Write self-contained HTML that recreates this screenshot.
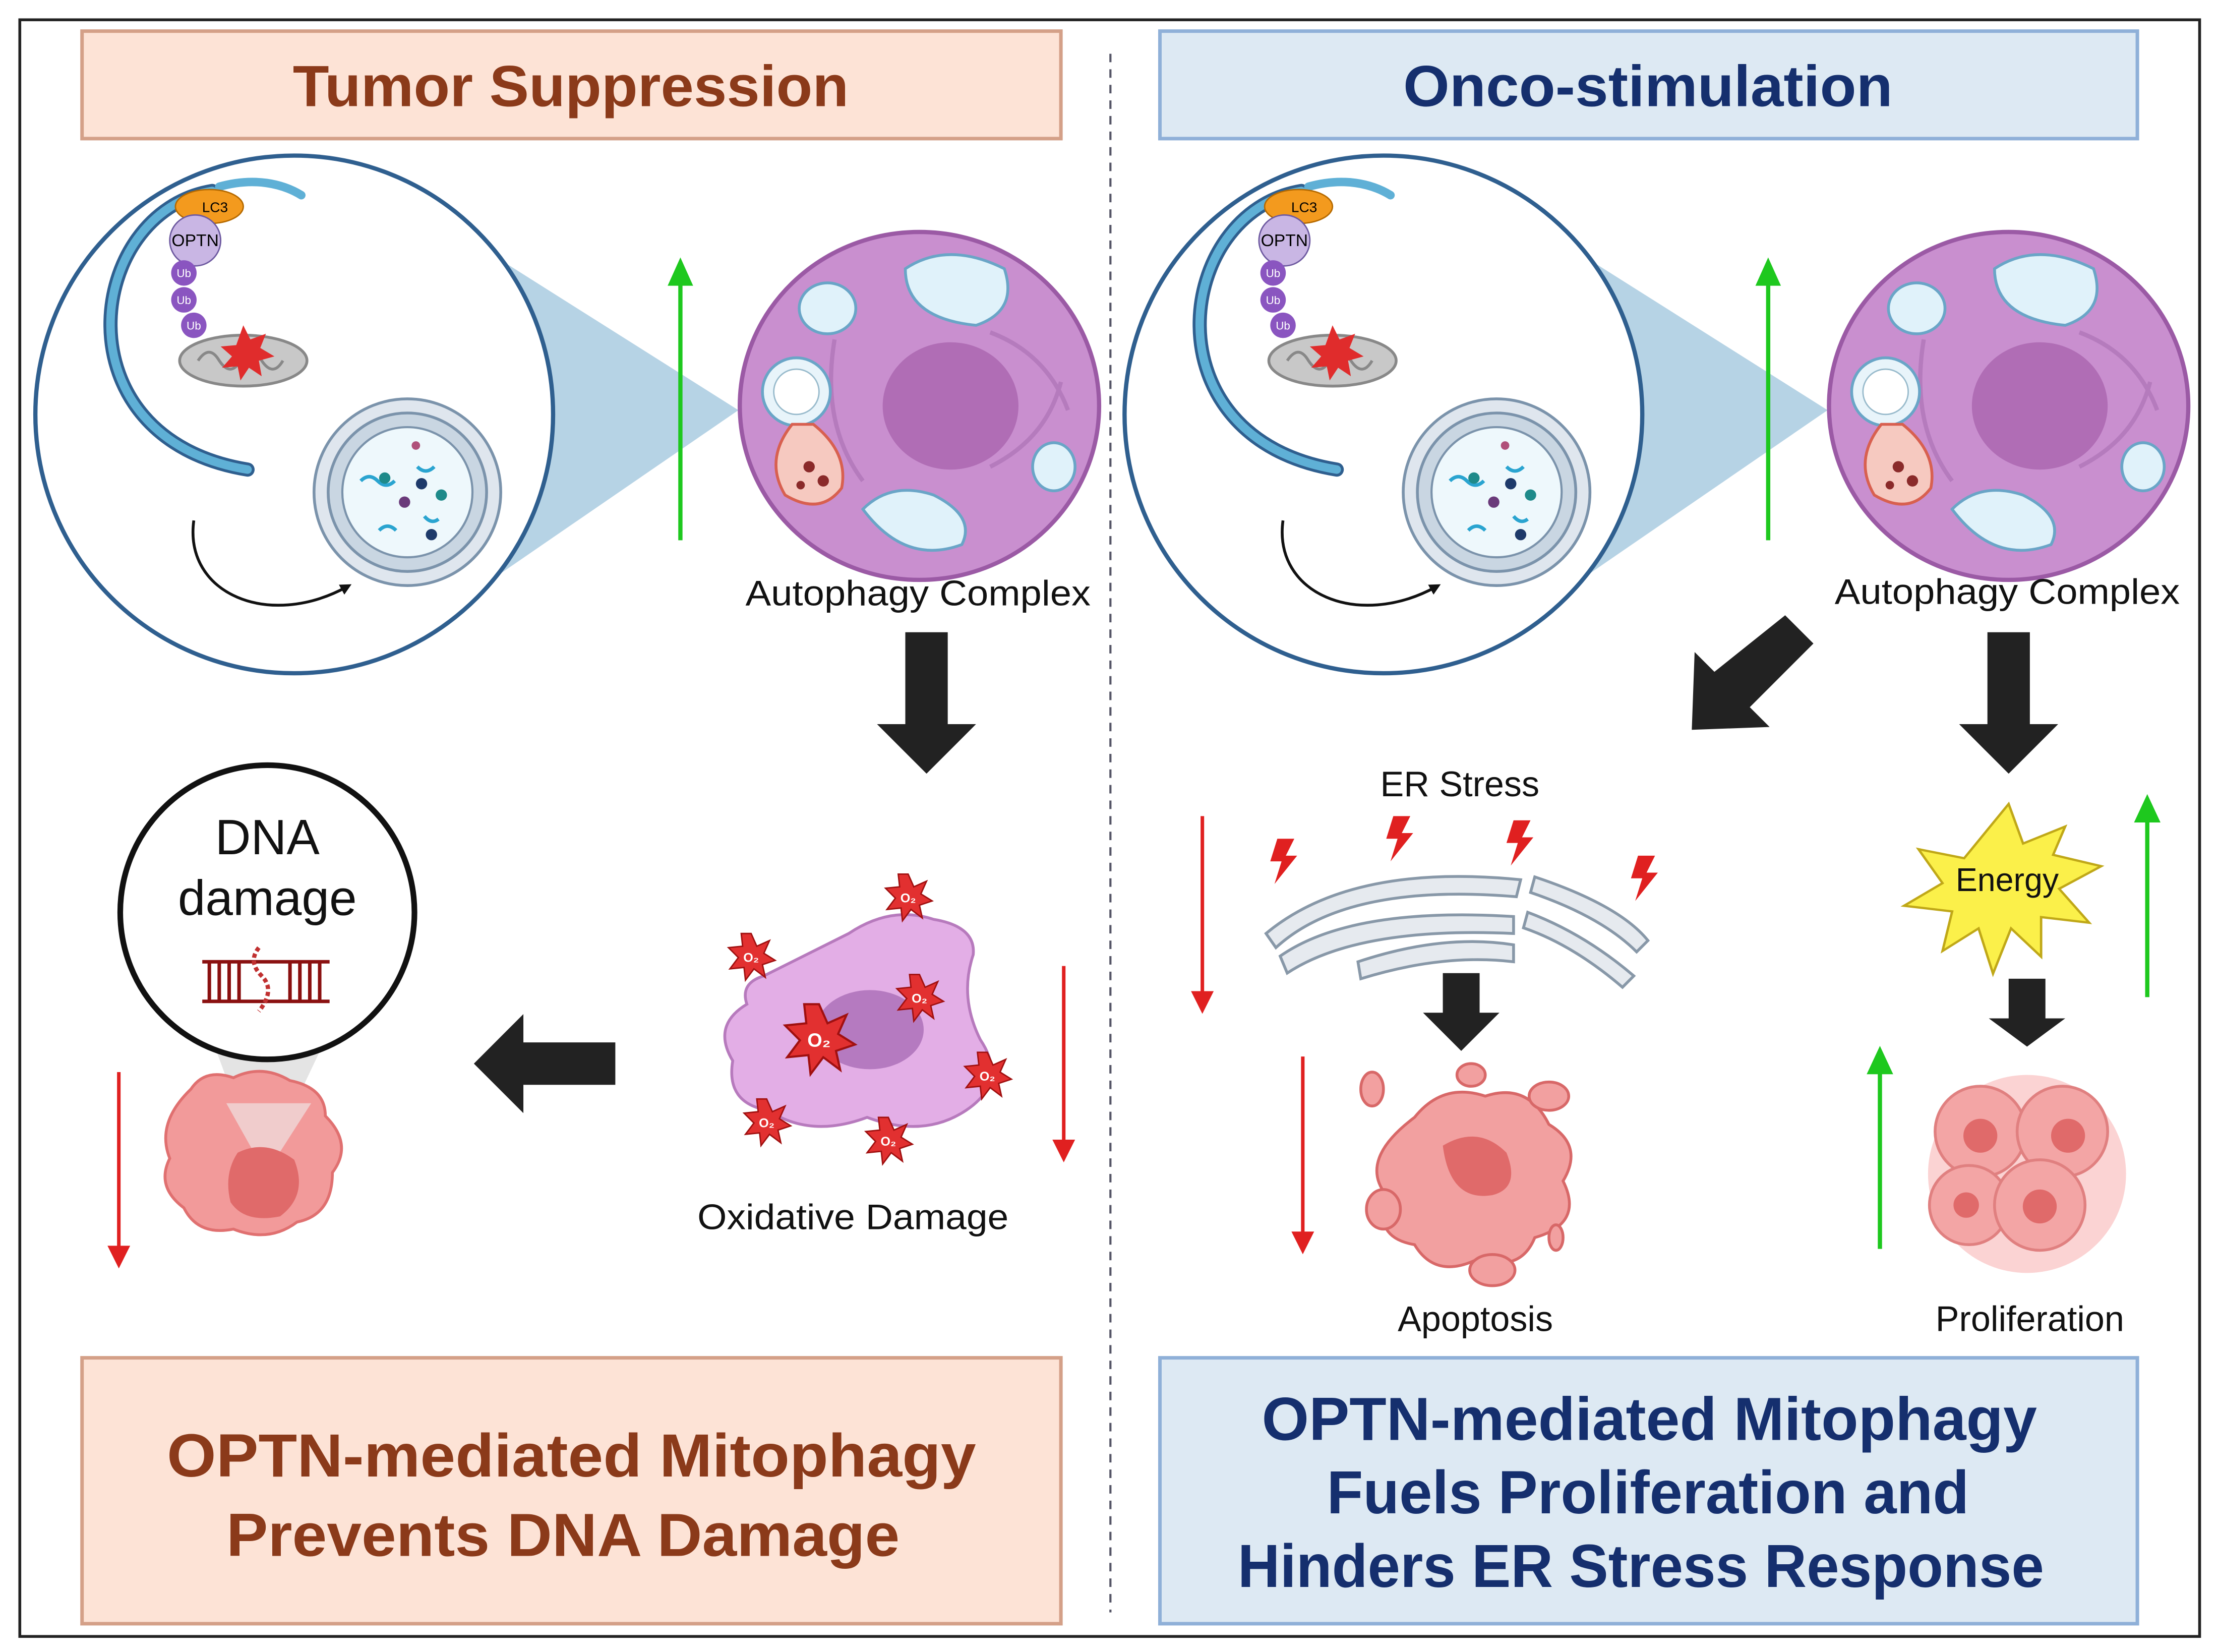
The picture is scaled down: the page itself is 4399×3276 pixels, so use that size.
<!DOCTYPE html>
<html><head><meta charset="utf-8"><style>
html,body{margin:0;padding:0;background:#fff}
svg{display:block}
text{font-family:"Liberation Sans",sans-serif}
</style></head><body>
<svg width="4399" height="3276" viewBox="0 0 1568 1168" preserveAspectRatio="none" xmlns="http://www.w3.org/2000/svg">
<defs>
<marker id="ah" markerWidth="8" markerHeight="8" refX="4" refY="4" orient="auto" markerUnits="userSpaceOnUse"><path d="M0,0 L8,4 L0,8 z" fill="#111"/></marker>
<g id="upG"><line x1="0" y1="0" x2="0" y2="-190" stroke="#1ec81e" stroke-width="3"/><path d="M-9,-180 L0,-200 L9,-180 z" fill="#1ec81e"/></g>
<g id="star"><path d="M0,-16 L4,-7 L13,-11 L9,-2 L17,3 L8,6 L10,15 L2,9 L-4,17 L-5,8 L-15,9 L-9,1 L-16,-6 L-6,-7 L-7,-16 z" fill="#e23030" stroke="#a01010" stroke-width="1"/><text x="0" y="4" font-size="9" fill="#fff" text-anchor="middle" font-weight="bold">O₂</text></g>
<g id="bolt"><path d="M0,0 L12,0 L6,12 L14,12 L-2,32 L3,16 L-5,16 z" fill="#e02020"/></g>
</defs>
<rect x="0" y="0" width="1568" height="1168" fill="#fff"/>
<rect x="14" y="14" width="1541" height="1143" fill="none" stroke="#222" stroke-width="2"/>
<line x1="785" y1="38" x2="785" y2="1140" stroke="#556" stroke-width="1.5" stroke-dasharray="6,5"/>

<rect x="58" y="22" width="692" height="76" fill="#fde3d6" stroke="#d4a088" stroke-width="2.5"/>
<text x="207" y="75" font-size="41" font-weight="bold" fill="#8b3a1a" textLength="393" lengthAdjust="spacingAndGlyphs">Tumor Suppression</text>
<rect x="820" y="22" width="691" height="76" fill="#dde9f3" stroke="#8fb0d8" stroke-width="2.5"/>
<text x="992" y="75" font-size="41" font-weight="bold" fill="#152f6e" textLength="346" lengthAdjust="spacingAndGlyphs">Onco-stimulation</text>

<rect x="58" y="960" width="692" height="188" fill="#fde3d6" stroke="#d4a088" stroke-width="2.5"/>
<text x="118" y="1044" font-size="43" font-weight="bold" fill="#8b3a1a" textLength="572" lengthAdjust="spacingAndGlyphs">OPTN-mediated Mitophagy</text>
<text x="160" y="1100" font-size="43" font-weight="bold" fill="#8b3a1a" textLength="476" lengthAdjust="spacingAndGlyphs">Prevents DNA Damage</text>
<rect x="820" y="960" width="691" height="188" fill="#dde9f3" stroke="#8fb0d8" stroke-width="2.5"/>
<text x="892" y="1018" font-size="43" font-weight="bold" fill="#152f6e" textLength="548" lengthAdjust="spacingAndGlyphs">OPTN-mediated Mitophagy</text>
<text x="938" y="1070" font-size="43" font-weight="bold" fill="#152f6e" textLength="454" lengthAdjust="spacingAndGlyphs">Fuels Proliferation and</text>
<text x="875" y="1122" font-size="43" font-weight="bold" fill="#152f6e" textLength="570" lengthAdjust="spacingAndGlyphs">Hinders ER Stress Response</text>

<g id="zoomL">
<polygon points="340,175 522,290 340,415" fill="#a9cbe0" opacity="0.85"/>
<circle cx="208" cy="293" r="183" fill="#fff" stroke="#2f5f8f" stroke-width="3"/>
<path d="M150,135 C60,150 40,310 175,332" fill="none" stroke="#2f5f8f" stroke-width="10" stroke-linecap="round"/>
<path d="M150,135 C60,150 40,310 175,332" fill="none" stroke="#5fb0d6" stroke-width="6" stroke-linecap="round"/>
<path d="M155,132 C180,125 200,130 213,138" fill="none" stroke="#5fb0d6" stroke-width="6" stroke-linecap="round"/>
<ellipse cx="148" cy="146" rx="24" ry="12" fill="#f39a1e" stroke="#b66a00"/>
<text x="152" y="150" font-size="10" text-anchor="middle">LC3</text>
<circle cx="138" cy="170" r="18" fill="#c9b6e4" stroke="#6e5aa0"/>
<text x="138" y="174" font-size="12" text-anchor="middle">OPTN</text>
<circle cx="130" cy="193" r="9" fill="#8a55c0"/><text x="130" y="196" font-size="8" fill="#fff" text-anchor="middle">Ub</text>
<circle cx="130" cy="212" r="9" fill="#8a55c0"/><text x="130" y="215" font-size="8" fill="#fff" text-anchor="middle">Ub</text>
<circle cx="137" cy="230" r="9" fill="#8a55c0"/><text x="137" y="233" font-size="8" fill="#fff" text-anchor="middle">Ub</text>
<ellipse cx="172" cy="255" rx="45" ry="18" fill="#c8c8c8" stroke="#888" stroke-width="2"/>
<path d="M140,255 q8,-12 15,0 q8,12 15,0 q8,-12 15,0 q8,12 15,0" fill="none" stroke="#888" stroke-width="2"/>
<path d="M172,230 l5,10 11,-4 -4,10 10,6 -11,3 2,11 -9,-6 -6,9 -2,-10 -11,1 7,-8 -8,-7 11,-1z" fill="#e02c2c"/>
<circle cx="288" cy="348" r="66" fill="#dfe6ee" stroke="#7b93ab" stroke-width="2"/>
<circle cx="288" cy="348" r="56" fill="#c9d6e2" stroke="#7b93ab" stroke-width="2"/>
<circle cx="288" cy="348" r="46" fill="#eef8fc" stroke="#7b93ab" stroke-width="1.5"/>
<path d="M255,340 q6,-6 12,0 q6,6 12,0 M295,330 q6,6 12,0 M268,375 q6,-6 12,0 M300,365 q5,6 10,2" fill="none" stroke="#2aa4d0" stroke-width="2.5"/>
<circle cx="272" cy="338" r="4" fill="#1e8a8a"/><circle cx="298" cy="342" r="4" fill="#1e3a6a"/><circle cx="286" cy="355" r="4" fill="#6a3a7a"/><circle cx="312" cy="350" r="4" fill="#1e8a8a"/><circle cx="305" cy="378" r="4" fill="#1e3a6a"/><circle cx="294" cy="315" r="3" fill="#b0507a"/>
<path d="M137,368 C130,420 190,445 245,415" fill="none" stroke="#111" stroke-width="2" marker-end="url(#ah)"/>
</g>
<use href="#zoomL" x="770" y="0"/>

<g id="cellL">
<ellipse cx="650" cy="287" rx="127" ry="123" fill="#c98fcf" stroke="#9b5aa5" stroke-width="3"/>
<ellipse cx="672" cy="287" rx="48" ry="45" fill="#b06db5"/>
<path d="M590,240 q-10,60 20,100 M700,330 q40,-20 50,-60 M700,235 q40,15 55,55" fill="none" stroke="#b57bbd" stroke-width="3"/>
<path d="M640,190 q30,-20 70,0 q10,30 -20,40 q-50,-5 -50,-40z" fill="#e0f2fa" stroke="#6aa5c7" stroke-width="2"/>
<ellipse cx="585" cy="218" rx="20" ry="18" fill="#e0f2fa" stroke="#6aa5c7" stroke-width="2"/>
<path d="M610,360 q20,-20 50,-10 q30,15 20,35 q-40,15 -70,-25z" fill="#e0f2fa" stroke="#6aa5c7" stroke-width="2"/>
<ellipse cx="745" cy="330" rx="15" ry="17" fill="#e0f2fa" stroke="#6aa5c7" stroke-width="2"/>
<circle cx="563" cy="277" r="24" fill="#e8f4fa" stroke="#6aa5c7" stroke-width="2"/>
<circle cx="563" cy="277" r="16" fill="#fff" stroke="#9bc" stroke-width="1"/>
<path d="M560,300 q-20,25 -5,50 q25,15 40,-5 q5,-25 -20,-45z" fill="#f6c9c0" stroke="#d86050" stroke-width="2"/>
<circle cx="572" cy="330" r="4" fill="#8a2a2a"/><circle cx="582" cy="340" r="4" fill="#8a2a2a"/><circle cx="566" cy="343" r="3" fill="#8a2a2a"/>
</g>
<use href="#cellL" x="770" y="0"/>

<use href="#upG" x="481" y="382"/>
<use href="#upG" x="1250" y="382"/>

<text x="527" y="428" font-size="25" fill="#111" textLength="244" lengthAdjust="spacingAndGlyphs">Autophagy Complex</text>
<text x="1297" y="427" font-size="25" fill="#111" textLength="244" lengthAdjust="spacingAndGlyphs">Autophagy Complex</text>

<path d="M640,447 h30 v65 h20 l-35,35 -35,-35 h20z" fill="#222"/>
<path d="M1405,447 h30 v65 h20 l-35,35 -35,-35 h20z" fill="#222"/>
<path d="M1262,435 l20,20 -45,45 14,14 -55,2 2,-55 14,14z" fill="#222"/>
<path d="M435,737 v30 h-65 v20 l-35,-35 35,-35 v20z" fill="#222"/>
<path d="M1020,688 h26 v28 h14 l-27,27 -27,-27 h14z" fill="#222"/>
<path d="M1420,692 h26 v28 h14 l-27,20 -27,-20 h14z" fill="#222"/>

<polygon points="150,735 230,735 185,830" fill="#ddd" opacity="0.8"/>
<path d="M135,770 q10,-15 30,-8 q20,-10 40,2 q25,5 25,25 q20,20 5,40 q0,30 -25,35 q-20,15 -45,5 q-25,5 -35,-15 q-20,-15 -10,-35 q-10,-25 15,-49z" fill="#f29a9a" stroke="#e07070" stroke-width="2"/>
<polygon points="160,780 220,780 188,830" fill="#eee" opacity="0.6"/>
<path d="M168,815 q20,-10 40,5 q10,25 -10,40 q-25,5 -35,-10 q-5,-20 5,-35z" fill="#e06a6a"/>
<circle cx="189" cy="645" r="104" fill="#fff" stroke="#111" stroke-width="4"/>
<text x="189" y="604" font-size="35" text-anchor="middle" fill="#111">DNA</text>
<text x="189" y="647" font-size="35" text-anchor="middle" fill="#111">damage</text>
<g stroke="#8a1010" stroke-width="2.5">
<line x1="143" y1="680" x2="233" y2="680"/><line x1="143" y1="708" x2="233" y2="708"/>
<path d="M148,680 v28 M155,680 v28 M162,680 v28 M169,680 v28 M205,680 v28 M212,680 v28 M219,680 v28 M226,680 v28"/>
</g>
<path d="M183,670 q-8,10 2,20 q10,10 -2,25" stroke="#c03030" stroke-width="3" fill="none" stroke-dasharray="3,2"/>

<g stroke="#e02020" stroke-width="2.5" fill="#e02020">
<line x1="84" y1="758" x2="84" y2="885"/><path d="M78,882 l6,12 6,-12z"/>
<line x1="752" y1="683" x2="752" y2="810"/><path d="M746,807 l6,12 6,-12z"/>
<line x1="850" y1="577" x2="850" y2="705"/><path d="M844,702 l6,12 6,-12z"/>
<line x1="921" y1="747" x2="921" y2="875"/><path d="M915,872 l6,12 6,-12z"/>
</g>
<g stroke="#1ec81e" stroke-width="3" fill="#1ec81e">
<line x1="1518" y1="705" x2="1518" y2="577"/><path d="M1511,580 l7,-15 7,15z"/>
<line x1="1329" y1="883" x2="1329" y2="755"/><path d="M1322,758 l7,-15 7,15z"/>
</g>

<path d="M540,690 q40,-20 60,-30 q30,-20 60,-10 q30,5 28,25 q-10,30 5,60 q20,30 -10,50 q-30,20 -70,5 q-40,15 -70,-5 q-30,-5 -25,-35 q-15,-25 10,-40 q-5,-15 12,-20z" fill="#e3aee6" stroke="#b77abd" stroke-width="2"/>
<ellipse cx="615" cy="728" rx="38" ry="28" fill="#b57ac0"/>
<g transform="translate(579,734) scale(1.5) translate(-579,-734)"><use href="#star" x="579" y="734"/></g>
<use href="#star" x="642" y="634"/><use href="#star" x="531" y="676"/><use href="#star" x="650" y="705"/>
<use href="#star" x="698" y="760"/><use href="#star" x="542" y="793"/><use href="#star" x="628" y="806"/>
<text x="493" y="869" font-size="25" fill="#111" textLength="220" lengthAdjust="spacingAndGlyphs">Oxidative Damage</text>

<text x="1032" y="563" font-size="25" text-anchor="middle" fill="#111">ER Stress</text>
<use href="#bolt" x="903" y="593"/><use href="#bolt" x="985" y="577"/><use href="#bolt" x="1070" y="580"/><use href="#bolt" x="1158" y="605"/>
<g fill="#e6eaef" stroke="#8898a8" stroke-width="2">
<path d="M895,660 q60,-50 180,-38 l-3,12 q-120,-10 -170,36z"/>
<path d="M905,676 q50,-35 165,-28 l0,12 q-110,-5 -160,28z"/>
<path d="M960,680 q60,-20 110,-12 l0,12 q-50,-6 -108,12z"/>
<path d="M1085,620 q60,20 80,45 l-8,8 q-25,-25 -75,-42z"/>
<path d="M1080,645 q40,15 75,45 l-8,8 q-35,-30 -70,-42z"/>
</g>

<g fill="#f2a0a0" stroke="#d86868" stroke-width="2">
<path d="M1000,790 q20,-25 50,-15 q30,-10 45,20 q25,15 10,40 q15,30 -20,40 q-10,25 -40,15 q-30,15 -45,-10 q-30,-5 -20,-35 q-20,-25 20,-55z"/>
<ellipse cx="970" cy="770" rx="8" ry="12"/><ellipse cx="1095" cy="775" rx="14" ry="10"/>
<ellipse cx="1055" cy="898" rx="16" ry="11"/><ellipse cx="978" cy="855" rx="12" ry="14"/>
<ellipse cx="1040" cy="760" rx="10" ry="8"/><ellipse cx="1100" cy="875" rx="5" ry="9"/>
</g>
<path d="M1020,810 q25,-15 45,5 q10,25 -10,30 q-30,5 -35,-35z" fill="#e06a6a"/>
<text x="1043" y="941" font-size="25" text-anchor="middle" fill="#111">Apoptosis</text>

<g transform="translate(1420,622) scale(0.85,0.8) translate(-1418,-630)">
<path d="M1418,563 l12,35 35,-15 -10,25 40,10 -35,20 25,30 -40,-5 0,35 -25,-25 -15,40 -12,-40 -30,20 8,-35 -40,-5 32,-20 -20,-30 38,8z" fill="#fbf04a" stroke="#c0a818" stroke-width="2"/>
</g>
<text x="1419" y="630" font-size="23" text-anchor="middle" fill="#111">Energy</text>

<g fill="#f3a5a5" stroke="#e08080" stroke-width="2">
<circle cx="1433" cy="830" r="70" fill="#fbd3d3" stroke="none"/>
<circle cx="1400" cy="800" r="32"/><circle cx="1458" cy="800" r="32"/>
<circle cx="1392" cy="852" r="28"/><circle cx="1442" cy="852" r="32"/>
</g>
<g fill="#e06a6a"><circle cx="1400" cy="803" r="12"/><circle cx="1462" cy="803" r="12"/><circle cx="1442" cy="853" r="12"/><circle cx="1390" cy="852" r="9"/></g>
<text x="1435" y="941" font-size="25" text-anchor="middle" fill="#111">Proliferation</text>
</svg>
</body></html>
